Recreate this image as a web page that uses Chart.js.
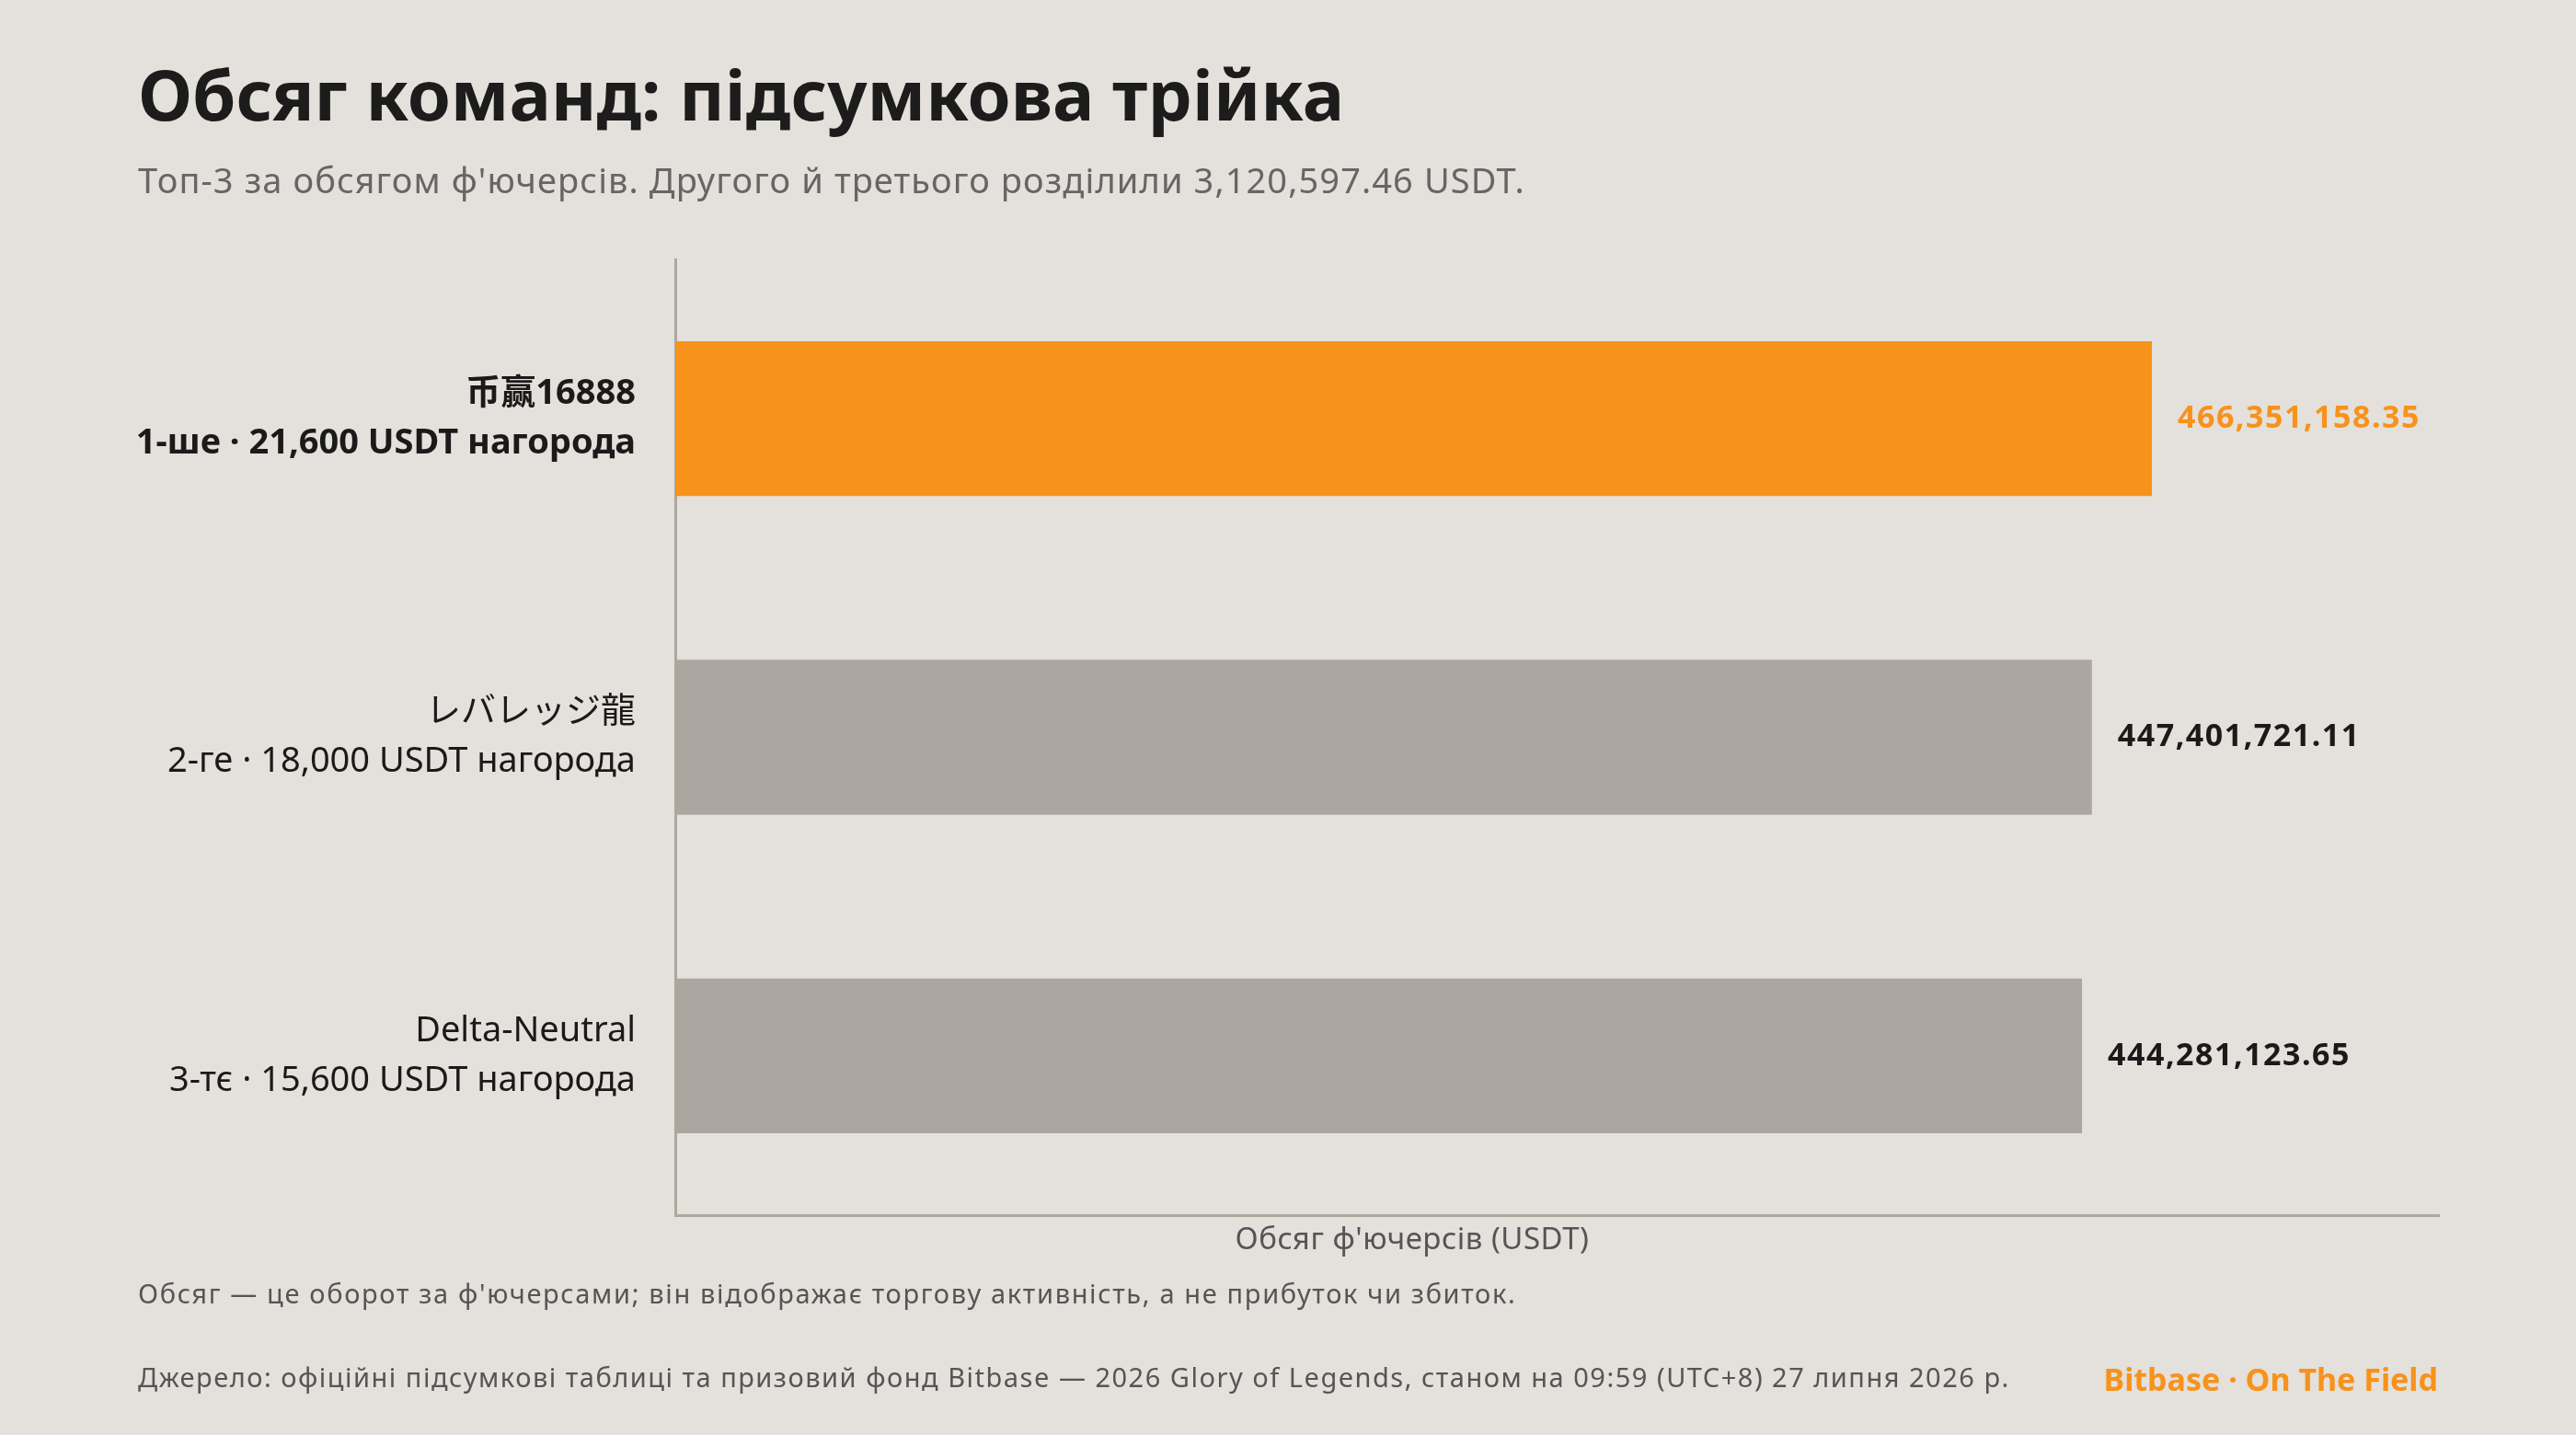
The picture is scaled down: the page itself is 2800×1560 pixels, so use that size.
<!DOCTYPE html>
<html lang="uk">
<head>
<meta charset="utf-8">
<script src="https://cdn.jsdelivr.net/npm/chart.js@4.4.1/dist/chart.umd.min.js"></script>
<style>
  html, body { margin: 0; padding: 0; background: #e4e0db; }
  body { width: 2800px; height: 1560px; position: relative; overflow: hidden;
         font-family: "Noto Sans", "Noto Sans CJK JP", sans-serif; }
  #chart { position: absolute; left: 0; top: 0; }
  .txt { position: absolute; line-height: 1; white-space: nowrap; }
  #title { left: 150px; top: 64px; font-size: 76px; font-weight: 700; color: #1c1c1c; }
  #subtitle { left: 150px; top: 176px; font-size: 38px; color: #666; letter-spacing: 1.1px; }
  #xtitle { left: 1535px; top: 1329px; font-size: 33px; color: #555; transform: translateX(-50%); letter-spacing: 0.5px; }
  #note { left: 150px; top: 1391px; font-size: 29px; color: #555; letter-spacing: 1.65px; }
  #source { left: 150px; top: 1482px; font-size: 29px; color: #555; letter-spacing: 1.5px; }
  #brand { right: 150px; top: 1482px; font-size: 34px; font-weight: 700; color: #f7921b; }
</style>
</head>
<body>
<canvas id="chart" width="2800" height="1560"></canvas>
<div class="txt" id="title">Обсяг команд: підсумкова трійка</div>
<div class="txt" id="subtitle">Топ-3 за обсягом ф'ючерсів. Другого й третього розділили 3,120,597.46 USDT.</div>
<div class="txt" id="xtitle">Обсяг ф'ючерсів (USDT)</div>
<div class="txt" id="note">Обсяг — це оборот за ф'ючерсами; він відображає торгову активність, а не прибуток чи збиток.</div>
<div class="txt" id="source">Джерело: офіційні підсумкові таблиці та призовий фонд Bitbase — 2026 Glory of Legends, станом на 09:59 (UTC+8) 27 липня 2026 р.</div>
<div class="txt" id="brand">Bitbase · On The Field</div>
<script>
// Дані
const teams = ["币赢16888", "レバレッジ龍", "Delta-Neutral"];
const prizes = ["1-ше · 21,600 USDT нагорода", "2-ге · 18,000 USDT нагорода", "3-тє · 15,600 USDT нагорода"];
const volumes = [466351158.35, 447401721.11, 444281123.65];
const barColors = ["#f7921b", "#aba69f", "#aba69f"];
const labelColors = ["#f7921b", "#1a1a1a", "#1a1a1a"];
const xMax = 557000000;

const FONT = '"Noto Sans", "Noto Sans CJK JP", sans-serif';

const fmt = (v) => v.toLocaleString("en-US", { minimumFractionDigits: 2, maximumFractionDigits: 2 });

// Підписи значень праворуч від смуг
const valueLabels = {
  id: "valueLabels",
  afterDatasetsDraw(chart) {
    const ctx = chart.ctx;
    const meta = chart.getDatasetMeta(0);
    ctx.save();
    ctx.font = "bold 34px " + FONT;
    ctx.letterSpacing = "1.5px";
    ctx.textAlign = "left";
    ctx.textBaseline = "middle";
    meta.data.forEach((bar, i) => {
      ctx.fillStyle = labelColors[i];
      ctx.fillText(fmt(volumes[i]), bar.x + 28, bar.y);
    });
    ctx.restore();
  },
};

new Chart(document.getElementById("chart"), {
  type: "bar",
  data: {
    labels: teams.map((t, i) => [t, prizes[i]]),
    datasets: [
      {
        data: volumes,
        backgroundColor: barColors,
        borderWidth: 0,
        categoryPercentage: 1,
        barPercentage: 0.486,
      },
    ],
  },
  options: {
    indexAxis: "y",
    responsive: false,
    animation: false,
    devicePixelRatio: 1,
    layout: { padding: { top: 282, right: 149, left: 0, bottom: 0 } },
    plugins: {
      legend: { display: false },
      tooltip: { enabled: false },
    },
    scales: {
      x: {
        min: 0,
        max: xMax,
        grid: { display: false, drawTicks: false },
        border: { display: true, color: "#aca89c", width: 3 },
        ticks: { display: false },
        afterFit: (s) => { s.height = 239; },
      },
      y: {
        grid: { display: false, drawTicks: false },
        border: { display: true, color: "#aca89c", width: 3 },
        ticks: {
          padding: 43,
          color: "#1a1a1a",
          font: (c) => ({
            family: FONT,
            size: 38,
            weight: c.index === 0 ? "bold" : "normal",
            lineHeight: 1.42,
          }),
        },
        afterFit: (s) => { s.width = 734; },
      },
    },
  },
  plugins: [valueLabels],
});
</script>
</body>
</html>
